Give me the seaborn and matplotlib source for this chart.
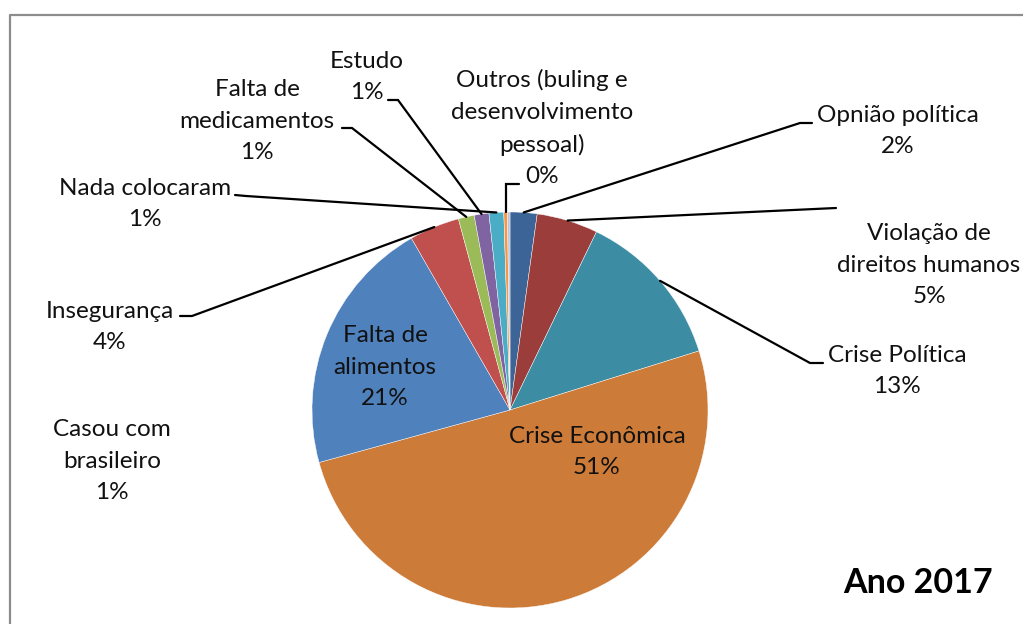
import matplotlib
matplotlib.use("Agg")
import numpy as np
import matplotlib.pyplot as plt
import seaborn as sns

# Motivos de saída - Ano 2017 (em %)
categories = [
    "Opnião política",
    "Violação de\ndireitos humanos",
    "Crise Política",
    "Crise Econômica",
    "Falta de\nalimentos",
    "Insegurança",
    "Falta de\nmedicamentos",
    "Estudo",
    "Nada colocaram",
    "Outros (buling e\ndesenvolvimento\npessoal)",
    "Casou com\nbrasileiro",
]
shares = [2.2, 5.0, 13.0, 50.6, 21.0, 4.1, 1.3, 1.2, 1.2, 0.3, 0.2]
pct_labels = ["2%", "5%", "13%", "51%", "21%", "4%", "1%", "1%", "1%", "0%", "1%"]
slice_colors = ["#3C6496", "#9B3E3B", "#3C8DA3", "#CD7B38", "#4F81BD", "#C0504D",
                "#9BBB59", "#8064A2", "#4BACC6", "#F79646", "#B9C7DE"]
title = "Ano 2017"

# label layout in pixel space (top-left origin): text centre, elbow, tail
layout = [
    ((898, 131), (800, 123), (812, 123)),
    ((929, 265), (836, 208), (836, 208)),
    ((897, 371), (810, 363), (823, 363)),
    ((597, 452), None, None),
    ((385, 367), None, None),
    ((110, 327), (192, 316), (180, 316)),
    ((257, 121), (352, 128), (342, 128)),
    ((367, 77), (398, 100), (388, 100)),
    ((145, 204), (246, 196), (235, 195)),
    ((542, 128), "up", (519, 184)),
    ((112, 461), None, None),
]

W, H = 1023, 624
CX, CY, R = 510, 410, 198


def main():
    sns.set_theme(style="white")
    plt.rcParams['font.family'] = ['Lato', 'DejaVu Sans']
    palette = sns.color_palette(slice_colors)

    fig = plt.figure(figsize=(W / 100, H / 100), dpi=100)
    fig.patch.set_facecolor("white")
    ax = fig.add_axes([0, 0, 1, 1])

    wedges, _ = ax.pie(
        shares,
        colors=palette,
        startangle=-90,
        counterclock=True,
        center=(CX, CY),
        radius=R,
        wedgeprops=dict(edgecolor="white", linewidth=0.3),
    )
    ax.set_xlim(0, W)
    ax.set_ylim(H, 0)
    ax.set_aspect("equal")
    ax.axis("off")

    for w, name, pct, (txt, elbow, tail) in zip(wedges, categories, pct_labels, layout):
        ax.text(txt[0], txt[1], f"{name}\n{pct}", ha="center", va="center",
                fontsize=17.5, color="#111111", linespacing=1.6)
        if tail is None:
            continue
        mid = np.deg2rad((w.theta1 + w.theta2) / 2)
        ex, ey = CX + R * np.cos(mid), CY + R * np.sin(mid)
        if elbow == "up":
            elbow = (ex, tail[1])
        ax.plot([ex, elbow[0], tail[0]], [ey, elbow[1], tail[1]],
                color="black", lw=1.6, solid_joinstyle="miter")

    ax.text(918, 583, title, ha="center", va="center", fontsize=24.5,
            fontweight="bold", color="black")

    # chart frame (only left and top edges visible in the crop)
    ax.plot([10, 10, W + 5], [H + 5, 15, 15], color="#8C8C8C", lw=1.6,
            clip_on=False)

    fig.savefig("out.png", dpi=100, facecolor="white")
    plt.close(fig)


if __name__ == "__main__":
    main()
